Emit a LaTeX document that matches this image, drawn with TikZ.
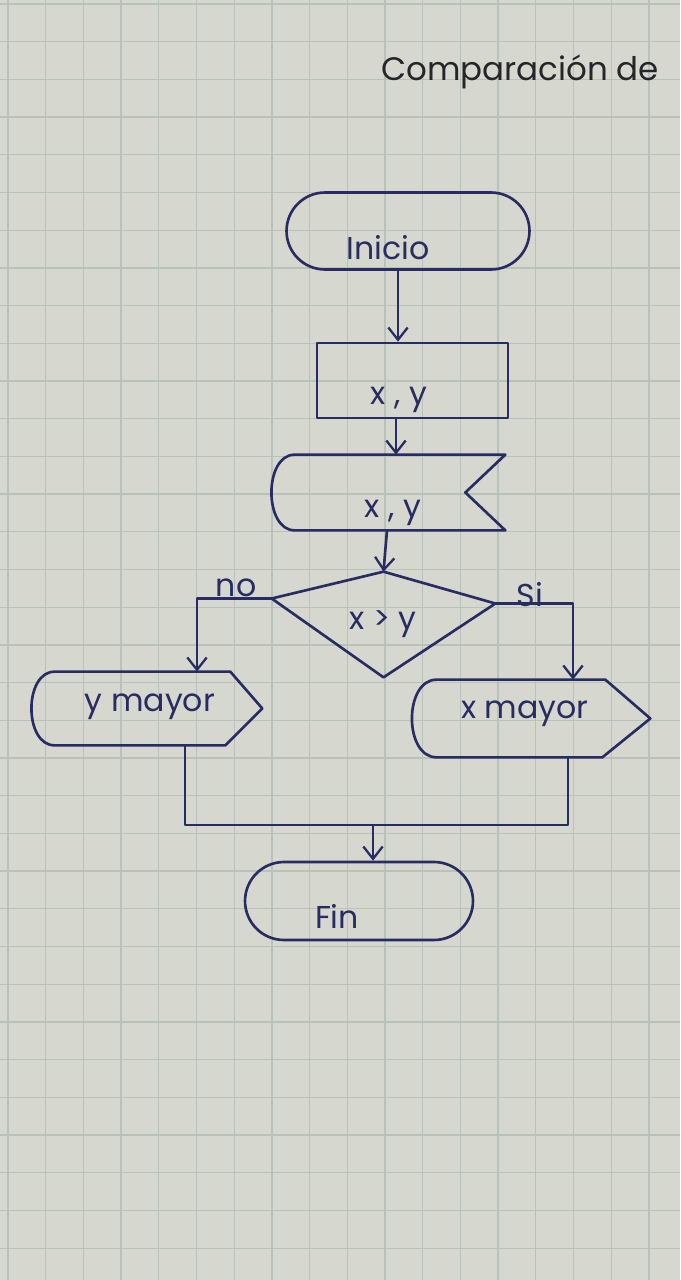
\documentclass[tikz,border=0pt]{standalone}
\usepackage{fontspec}
\setmainfont{Poppins}
\usetikzlibrary{arrows.meta,shapes.misc,calc}
\definecolor{paper}{RGB}{214,215,206}
\definecolor{gridc}{RGB}{184,193,186}
\definecolor{ink}{RGB}{40,44,98}
\definecolor{pencil}{RGB}{38,38,42}
\begin{document}
\begin{tikzpicture}[x=0.02cm,y=-0.02cm,
  inkline/.style={draw=ink, line width=1.5pt, line join=round, line cap=round},
  arr/.style={inkline, -{Straight Barb[length=7pt,width=11pt,line width=1.3pt]}},
  lbl/.style={text=ink, font=\fontsize{18}{20}\selectfont, inner sep=0},
  term/.style={rounded rectangle, inkline, inner sep=0},
  iobox/.style={rectangle, inkline, inner sep=0},
  hidbox/.style={rectangle, draw=none, inner sep=0}]
% paper
\fill[paper] (0,0) rectangle (680,1280);
\useasboundingbox (0,0) rectangle (680,1280);
\foreach \i in {0,...,18} \draw[gridc, line width=0.7pt] ({8+37.7*\i},0) -- ({8+37.7*\i},1280);
\foreach \j in {0,...,34} \draw[gridc, line width=0.7pt] (0,{4+37.7*\j}) -- (680,{4+37.7*\j});
% title
\node[text=pencil, font=\fontsize{18.5}{20}\selectfont, inner sep=0] (title) at (520,72) {Comparación de};
% start
\node[term, minimum width=4.86cm, minimum height=1.54cm] (ini) at (408,231) {};
\node[lbl] (tini) at (388,248) {Inicio};
% input rectangle
\node[iobox, minimum width=3.82cm, minimum height=1.5cm] (inp) at (412.5,380.5) {};
\node[lbl] (tinp) at (399,400) {x , y};
% display x,y
\node[hidbox, minimum width=4.7cm, minimum height=1.5cm] (d1) at (387.5,492.5) {};
\draw[inkline] ($(d1.north west)+(25,0)$) -- (d1.north east) -- ($(d1.east)+(-40,0)$) -- (d1.south east) -- ($(d1.south west)+(25,0)$) .. controls ($(d1.south west)+(-6,0)$) and ($(d1.north west)+(-6,0)$) .. cycle;
\node[lbl] (td1) at (393,513) {x , y};
% decision
\node[hidbox, minimum width=4.46cm, minimum height=2.1cm] (dm) at (383.5,624.5) {};
\coordinate (dl) at ($(dm.west)+(0,-26)$);
\coordinate (dr) at ($(dm.east)+(0,-21)$);
\draw[inkline] (dm.north) -- (dr) -- (dm.south) -- (dl) -- cycle;
\node[lbl] (tdm) at (383,624) {x \textgreater{} y};
% y mayor
\node[hidbox, minimum width=4.64cm, minimum height=1.46cm] (d2) at (146,708.5) {};
\draw[inkline] ($(d2.north west)+(25,0)$) -- ($(d2.north east)+(-32,0)$) -- (d2.east) -- ($(d2.south east)+(-37,0)$) -- ($(d2.south west)+(25,0)$) .. controls ($(d2.south west)+(-6,0)$) and ($(d2.north west)+(-6,0)$) .. cycle;
\node[lbl] (td2) at (150,707) {y mayor};
% x mayor
\node[hidbox, minimum width=4.76cm, minimum height=1.54cm] (d3) at (531,718.5) {};
\draw[inkline] ($(d3.north west)+(25,0)$) -- ($(d3.north east)+(-45,0)$) -- (d3.east) -- ($(d3.south east)+(-48,0)$) -- ($(d3.south west)+(25,0)$) .. controls ($(d3.south west)+(-8,0)$) and ($(d3.north west)+(-8,0)$) .. cycle;
\node[lbl] (td3) at (525,714) {x mayor};
% end
\node[term, minimum width=4.56cm, minimum height=1.56cm] (fin) at (359,901) {};
\node[lbl] (tfin) at (337,916) {Fin};
% branch labels
\node[lbl] (lno) at (236,588) {no};
\node[lbl] (lsi) at (530,595) {Si};
% spine coordinates
\coordinate (s1) at (398,0);
\coordinate (s2) at (396,0);
\coordinate (s3) at (387,0);
\coordinate (nx) at (197,0);
\coordinate (sx) at (573,0);
\coordinate (m1) at (185,0);
\coordinate (m2) at (568,0);
\coordinate (my) at (0,825);
\coordinate (s4) at (373,0);
% connectors
\draw[arr] (s1 |- ini.south) -- (s1 |- inp.north);
\draw[arr] (s2 |- inp.south) -- (s2 |- d1.north);
\draw[arr] (s3 |- d1.south) -- (dm.north);
\draw[arr] (dl) -| (nx |- d2.north);
\draw[arr] (dr) -| (sx |- d3.north);
\draw[inkline] (m1 |- d2.south) |- (m2 |- my) -- (m2 |- d3.south);
\draw[arr] (s4 |- my) -- (s4 |- fin.north);
\end{tikzpicture}
\end{document}
